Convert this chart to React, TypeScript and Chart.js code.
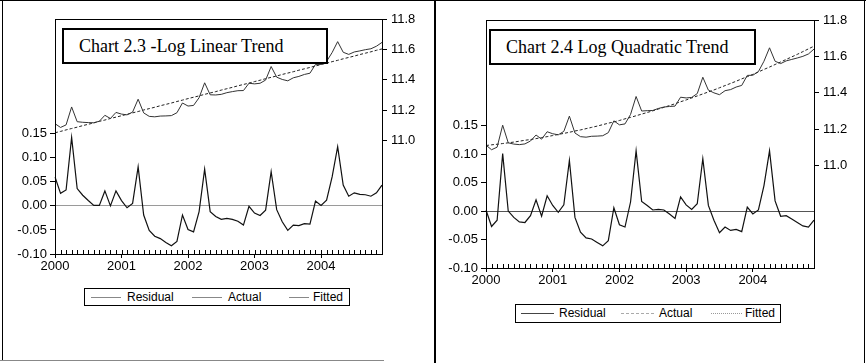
import React, { useEffect, useRef } from 'react';
import { Chart, registerables } from 'chart.js';

Chart.register(...registerables);

// ---------- categories & ticks ----------
const YEARS = ['2000', '2001', '2002', '2003', '2004'];
const MONTHS = ['01', '02', '03', '04', '05', '06', '07', '08', '09', '10', '11', '12'];
const MONTH_LABELS = YEARS.flatMap((y) => MONTHS.map((m) => `${y}M${m}`));

const RESID_TICKS = [-0.1, -0.05, 0, 0.05, 0.1, 0.15];
const LEVEL_TICKS = [11.0, 11.2, 11.4, 11.6, 11.8];
const SERIES_NAMES = ['Residual', 'Actual', 'Fitted'];

// ---------- Chart 2.3 : log linear trend ----------
const LIN_RESIDUAL = [
  0.060, 0.026, 0.033, 0.142, 0.036, 0.022, 0.011, 0.001, 0.001, 0.031, 0.000, 0.031,
  0.011, -0.004, 0.005, 0.081, -0.019, -0.051, -0.063, -0.068, -0.076, -0.083, -0.074, -0.019,
  -0.049, -0.054, -0.012, 0.076, -0.012, -0.022, -0.028, -0.026, -0.028, -0.032, -0.040, -0.001,
  -0.015, -0.020, -0.009, 0.071, -0.008, -0.033, -0.051, -0.040, -0.041, -0.037, -0.038, 0.010,
  0.001, 0.012, 0.060, 0.123, 0.043, 0.020, 0.027, 0.024, 0.023, 0.020, 0.027, 0.043,
];
const LIN_ACTUAL = [
  11.111, 11.086, 11.103, 11.221, 11.124, 11.120, 11.118, 11.117, 11.127, 11.166, 11.145, 11.185,
  11.174, 11.169, 11.187, 11.272, 11.182, 11.159, 11.156, 11.161, 11.162, 11.164, 11.183, 11.247,
  11.227, 11.231, 11.282, 11.380, 11.301, 11.300, 11.304, 11.315, 11.322, 11.328, 11.329, 11.377,
  11.373, 11.377, 11.398, 11.487, 11.417, 11.402, 11.393, 11.413, 11.422, 11.435, 11.443, 11.501,
  11.501, 11.521, 11.579, 11.651, 11.581, 11.567, 11.583, 11.590, 11.598, 11.604, 11.621, 11.646,
];
const LIN_FITTED = [
  11.051, 11.060, 11.070, 11.079, 11.088, 11.098, 11.107, 11.116, 11.126, 11.135, 11.145, 11.154,
  11.163, 11.173, 11.182, 11.191, 11.201, 11.210, 11.219, 11.229, 11.238, 11.247, 11.257, 11.266,
  11.276, 11.285, 11.294, 11.304, 11.313, 11.322, 11.332, 11.341, 11.350, 11.360, 11.369, 11.378,
  11.388, 11.397, 11.407, 11.416, 11.425, 11.435, 11.444, 11.453, 11.463, 11.472, 11.481, 11.491,
  11.500, 11.509, 11.519, 11.528, 11.538, 11.547, 11.556, 11.566, 11.575, 11.584, 11.594, 11.603,
];

// ---------- Chart 2.4 : log quadratic trend ----------
const QUAD_RESIDUAL = [
  0.002, -0.027, -0.016, 0.101, 0.000, -0.011, -0.019, -0.020, -0.008, 0.020, -0.009, 0.027,
  0.010, -0.002, 0.011, 0.089, -0.011, -0.037, -0.047, -0.049, -0.055, -0.061, -0.052, 0.006,
  -0.024, -0.028, 0.016, 0.106, 0.017, 0.010, 0.002, 0.003, 0.002, -0.005, -0.013, 0.025,
  0.011, 0.003, 0.013, 0.092, 0.010, -0.016, -0.038, -0.028, -0.034, -0.032, -0.036, 0.007,
  -0.005, 0.002, 0.045, 0.106, 0.018, -0.009, -0.008, -0.014, -0.020, -0.026, -0.028, -0.016,
];
const QUAD_ACTUAL = [
  11.111, 11.086, 11.100, 11.221, 11.124, 11.117, 11.114, 11.118, 11.134, 11.167, 11.144, 11.185,
  11.174, 11.168, 11.187, 11.271, 11.178, 11.158, 11.155, 11.160, 11.161, 11.163, 11.180, 11.245,
  11.223, 11.228, 11.280, 11.379, 11.299, 11.301, 11.302, 11.313, 11.321, 11.324, 11.326, 11.375,
  11.371, 11.374, 11.395, 11.485, 11.414, 11.399, 11.389, 11.411, 11.417, 11.431, 11.440, 11.495,
  11.496, 11.516, 11.573, 11.647, 11.573, 11.560, 11.575, 11.583, 11.591, 11.600, 11.613, 11.640,
];
const QUAD_FITTED = [
  11.109, 11.113, 11.116, 11.120, 11.124, 11.128, 11.133, 11.138, 11.142, 11.147, 11.153, 11.158,
  11.164, 11.170, 11.176, 11.182, 11.189, 11.195, 11.202, 11.209, 11.216, 11.224, 11.232, 11.239,
  11.247, 11.256, 11.264, 11.273, 11.282, 11.291, 11.300, 11.310, 11.319, 11.329, 11.339, 11.350,
  11.360, 11.371, 11.382, 11.393, 11.404, 11.415, 11.427, 11.439, 11.451, 11.463, 11.476, 11.488,
  11.501, 11.514, 11.528, 11.541, 11.555, 11.569, 11.583, 11.597, 11.611, 11.626, 11.641, 11.656,
];

const SANS = "'Liberation Sans', Arial, Helvetica, sans-serif";
const SERIF = "'Liberation Serif', 'Times New Roman', Times, serif";

const framePlugin = {
  id: 'evFrame',
  afterDraw(chart: any) {
    const { ctx, chartArea } = chart;
    const x = chart.scales.x;
    ctx.save();
    ctx.strokeStyle = '#000';
    ctx.lineWidth = 1;
    ctx.beginPath();
    // inward monthly ticks
    for (let i = 0; i < x.ticks.length; i++) {
      const px = Math.round(x.getPixelForTick(i)) + 0.5;
      ctx.moveTo(px, chartArea.bottom);
      ctx.lineTo(px, chartArea.bottom - 4);
    }
    ctx.stroke();
    ctx.strokeRect(
      Math.round(chartArea.left) + 0.5,
      Math.round(chartArea.top) + 0.5,
      Math.round(chartArea.right) - Math.round(chartArea.left),
      Math.round(chartArea.bottom) - Math.round(chartArea.top)
    );
    ctx.restore();
  },
};

type PanelProps = {
  residual: number[];
  actual: number[];
  fitted: number[];
  residMax: number;
  levelMin: number;
  padTop: number;
  leftW: number;
  rightW: number;
  xH: number;
  zeroColor: string;
  actualColor: string;
  fittedColor: string;
  width: number;
  height: number;
};

function Panel(p: PanelProps) {
  const ref = useRef<HTMLCanvasElement | null>(null);
  useEffect(() => {
    if (!ref.current) return;
    const chart = new Chart(ref.current, {
      type: 'line',
      data: {
        labels: MONTH_LABELS,
        datasets: [
          {
            label: SERIES_NAMES[0],
            data: p.residual,
            yAxisID: 'yRes',
            borderColor: '#111',
            borderWidth: 1.2,
            pointRadius: 0,
            tension: 0,
          },
          {
            label: SERIES_NAMES[1],
            data: p.actual,
            yAxisID: 'yLev',
            borderColor: p.actualColor,
            borderWidth: 1,
            pointRadius: 0,
            tension: 0,
          },
          {
            label: SERIES_NAMES[2],
            data: p.fitted,
            yAxisID: 'yLev',
            borderColor: p.fittedColor,
            borderWidth: 1,
            borderDash: [3, 2],
            pointRadius: 0,
            tension: 0,
          },
        ],
      },
      options: {
        responsive: false,
        maintainAspectRatio: false,
        animation: false,
        devicePixelRatio: 1,
        layout: { padding: { top: p.padTop, left: 0, right: 0, bottom: 0 } },
        plugins: {
          legend: { display: false },
          tooltip: { enabled: false },
          title: { display: false },
        },
        scales: {
          x: {
            type: 'category',
            offset: false,
            grid: {
              offset: false,
              drawOnChartArea: false,
              drawTicks: true,
              tickLength: 4,
              tickColor: (c: any) => (c.index % 12 === 0 ? '#000' : 'rgba(0,0,0,0)'),
            },
            border: { display: true, color: '#000', width: 1 },
            ticks: {
              autoSkip: false,
              maxRotation: 0,
              minRotation: 0,
              padding: 1,
              color: '#000',
              font: { family: SANS, size: 13 },
              callback: (_v: any, i: number) => (i % 12 === 0 ? YEARS[i / 12] : ''),
            },
            afterFit: (s: any) => {
              s.height = p.xH;
            },
          },
          yRes: {
            type: 'linear',
            position: 'left',
            min: -0.1,
            max: p.residMax,
            afterBuildTicks: (s: any) => {
              s.ticks = RESID_TICKS.map((v) => ({ value: v }));
            },
            grid: {
              drawOnChartArea: true,
              drawTicks: true,
              tickLength: 5,
              tickColor: '#000',
              color: (c: any) =>
                c.tick && Math.abs(c.tick.value) < 1e-9 ? p.zeroColor : 'rgba(0,0,0,0)',
            },
            border: { display: true, color: '#000', width: 1 },
            ticks: {
              padding: 3,
              color: '#000',
              font: { family: SANS, size: 13 },
              callback: (v: any) => Number(v).toFixed(2),
            },
            afterFit: (s: any) => {
              s.width = p.leftW;
            },
          },
          yLev: {
            type: 'linear',
            position: 'right',
            min: p.levelMin,
            max: 11.8,
            afterBuildTicks: (s: any) => {
              s.ticks = LEVEL_TICKS.map((v) => ({ value: v }));
            },
            grid: {
              drawOnChartArea: false,
              drawTicks: true,
              tickLength: 5,
              tickColor: '#000',
            },
            border: { display: true, color: '#000', width: 1 },
            ticks: {
              padding: 4,
              color: '#000',
              font: { family: SANS, size: 13 },
              callback: (v: any) => Number(v).toFixed(1),
            },
            afterFit: (s: any) => {
              s.width = p.rightW;
            },
          },
        },
      },
      plugins: [framePlugin],
    } as any);
    return () => chart.destroy();
  }, []);
  return <canvas ref={ref} width={p.width} height={p.height} style={{ width: p.width, height: p.height, display: 'block' }} />;
}

type LegendProps = {
  left: number;
  top: number;
  width: number;
  height: number;
  items: { lineX: number; lineW: number; textX: number; style: string; color: string }[];
};

function Legend({ left, top, width, height, items }: LegendProps) {
  return (
    <div
      style={{
        position: 'absolute',
        left,
        top,
        width,
        height,
        border: '1px solid #000',
        boxSizing: 'border-box',
        background: '#fff',
        fontFamily: SANS,
        fontSize: 12,
        color: '#000',
      }}
    >
      {items.map((it, i) => (
        <React.Fragment key={i}>
          <div
            style={{
              position: 'absolute',
              left: it.lineX,
              top: Math.floor(height / 2) - 1,
              width: it.lineW,
              height: 0,
              borderTop: `1px ${it.style} ${it.color}`,
            }}
          />
          <div style={{ position: 'absolute', left: it.textX, top: 0, lineHeight: `${height - 2}px`, whiteSpace: 'nowrap' }}>
            {SERIES_NAMES[i]}
          </div>
        </React.Fragment>
      ))}
    </div>
  );
}

function TitleBox({ left, top, width, height, text }: { left: number; top: number; width: number; height: number; text: string }) {
  return (
    <div
      style={{
        position: 'absolute',
        left,
        top,
        width,
        height,
        border: '2px solid #000',
        boxSizing: 'border-box',
        background: '#fff',
        fontFamily: SERIF,
        fontSize: 18,
        color: '#000',
        lineHeight: `${height - 4}px`,
        paddingLeft: 15,
        whiteSpace: 'nowrap',
      }}
    >
      {text}
    </div>
  );
}

export default function App() {
  return (
    <div
      style={{
        position: 'absolute',
        left: 0,
        top: 0,
        width: 866,
        height: 363,
        background: '#fff',
        overflow: 'hidden',
      }}
    >
      <div style={{ position: 'absolute', left: 0, top: 0 }}>
        <Panel
          residual={LIN_RESIDUAL}
          actual={LIN_ACTUAL}
          fitted={LIN_FITTED}
          residMax={0.388}
          levelMin={10.253}
          padTop={19}
          leftW={55}
          rightW={51}
          xH={109}
          zeroColor="#9a9a9a"
          actualColor="#333"
          fittedColor="#222"
          width={433}
          height={363}
        />
      </div>
      <div style={{ position: 'absolute', left: 433, top: 0 }}>
        <Panel
          residual={QUAD_RESIDUAL}
          actual={QUAD_ACTUAL}
          fitted={QUAD_FITTED}
          residMax={0.336}
          levelMin={10.435}
          padTop={20}
          leftW={53}
          rightW={52}
          xH={95}
          zeroColor="#555"
          actualColor="#333"
          fittedColor="#222"
          width={433}
          height={363}
        />
      </div>

      <TitleBox left={62} top={28} width={266} height={36} text="Chart 2.3 -Log Linear Trend" />
      <TitleBox left={489} top={29} width={267} height={36} text="Chart 2.4 Log Quadratic Trend" />

      <Legend
        left={84}
        top={288}
        width={266}
        height={18}
        items={[
          { lineX: 6, lineW: 30, textX: 42, style: 'solid', color: '#888' },
          { lineX: 107, lineW: 30, textX: 143, style: 'solid', color: '#888' },
          { lineX: 204, lineW: 20, textX: 228, style: 'solid', color: '#888' },
        ]}
      />
      <Legend
        left={515}
        top={304}
        width={266}
        height={19}
        items={[
          { lineX: 5, lineW: 33, textX: 43, style: 'solid', color: '#444' },
          { lineX: 105, lineW: 33, textX: 143, style: 'dashed', color: '#aaa' },
          { lineX: 195, lineW: 31, textX: 229, style: 'dotted', color: '#999' },
        ]}
      />

      {/* panel frames */}
      <div style={{ position: 'absolute', left: 0, top: 0, width: 866, height: 1, background: '#000' }} />
      <div style={{ position: 'absolute', left: 2, top: 0, width: 1, height: 361, background: '#000' }} />
      <div style={{ position: 'absolute', left: 434, top: 0, width: 2, height: 363, background: '#000' }} />
      <div style={{ position: 'absolute', left: 864, top: 0, width: 1, height: 363, background: '#000' }} />
      <div style={{ position: 'absolute', left: 0, top: 360, width: 384, height: 1, background: '#888' }} />
    </div>
  );
}
